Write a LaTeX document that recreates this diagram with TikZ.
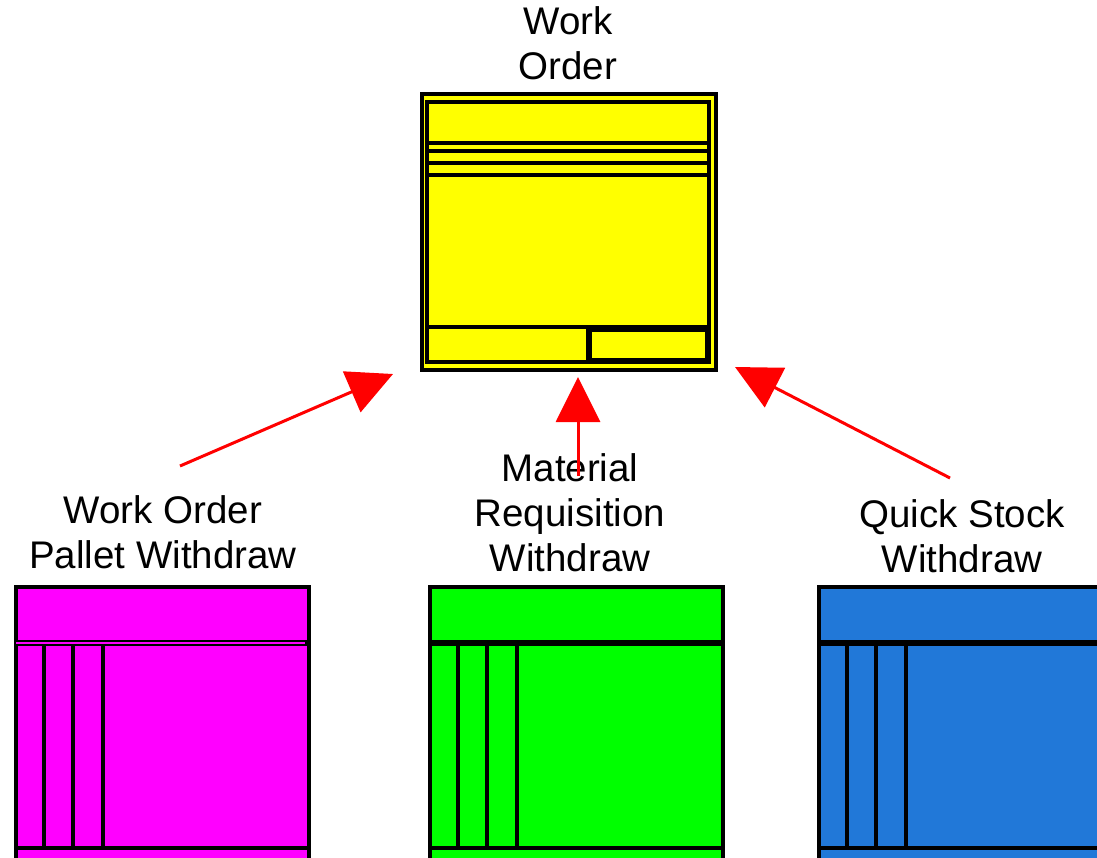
\documentclass[tikz,border=0pt]{standalone}
\usepackage{fontspec}
\setmainfont{Liberation Sans}
\usetikzlibrary{arrows.meta}
\usetikzlibrary{positioning}

\definecolor{woyellow}{RGB}{255,255,0}
\definecolor{pwmagenta}{RGB}{255,0,255}
\definecolor{mrgreen}{RGB}{0,255,0}
\definecolor{qsblue}{RGB}{33,120,216}

\begin{document}
\begin{tikzpicture}[x=1pt, y=-1pt, line width=3.5pt,
    form/.style={draw, line width=3.5pt, inner sep=0pt, anchor=north west},
    title/.style={font=\fontsize{38.5}{45}\selectfont, align=center, anchor=south, inner sep=0pt},
    feed/.style={draw=red, line width=3pt, -{Triangle[length=45pt, width=44pt]}}]
    \useasboundingbox (0,0) rectangle (1097,857);

    % work order form
    \node[form, fill=woyellow, minimum width=294pt, minimum height=276pt] (wo) at (420,92) {};
    \draw (427,102) rectangle (709,362);
    \draw (427,143) -- (709,143);
    \draw (427,151) -- (709,151);
    \draw (427,163) -- (709,163);
    \draw (427,175) -- (709,175);
    \draw (427,327) -- (709,327);
    \draw (588,327) -- (588,362);
    \draw (590,330) rectangle (707,360);
    \node[title] (wotitle) at (568,82) {Work\\Order};

    % withdraw forms
    \begin{scope}
      \clip (0,0) rectangle (1097,857);
      \foreach \x/\col/\mid/\name in {14/pwmagenta/pwmagenta/pw, 428/mrgreen/black/mr, 817/qsblue/black/qs}{
        \node[form, fill=\col, minimum width=293pt, minimum height=300pt] (\name) at (\x,585) {};
        \draw[line width=6.5pt] (\x,643) -- ++(293,0);
        \draw[\mid, line width=2pt] (\x+2,643) -- ++(289,0);
        \draw (\x,848) -- ++(293,0);
        \draw (\x+30,645) -- (\x+30,848);
        \draw[line width=4.5pt] (\x+59,645) -- (\x+59,848);
        \draw (\x+89,645) -- (\x+89,848);
      }
    \end{scope}
    \node[title] (pwtitle) at (163,571) {Work Order\\Pallet Withdraw};
    \node[title] (mrtitle) at (570,574) {Material\\Requisition\\Withdraw};
    \node[title] (qstitle) at (962,575) {Quick Stock\\Withdraw};

    % arrows into the work order
    \coordinate (pwtail) at (180,466);
    \coordinate (pwhead) at (393,374);
    \coordinate (mrtail) at (578,476);
    \coordinate (mrhead) at (578,377);
    \coordinate (qstail) at (950,478);
    \coordinate (qshead) at (735,367);
    \draw[feed] (pwtail) -- (pwhead);
    \draw[feed] (mrtail) -- (mrhead);
    \draw[feed] (qstail) -- (qshead);

  \end{tikzpicture}
\end{document}
